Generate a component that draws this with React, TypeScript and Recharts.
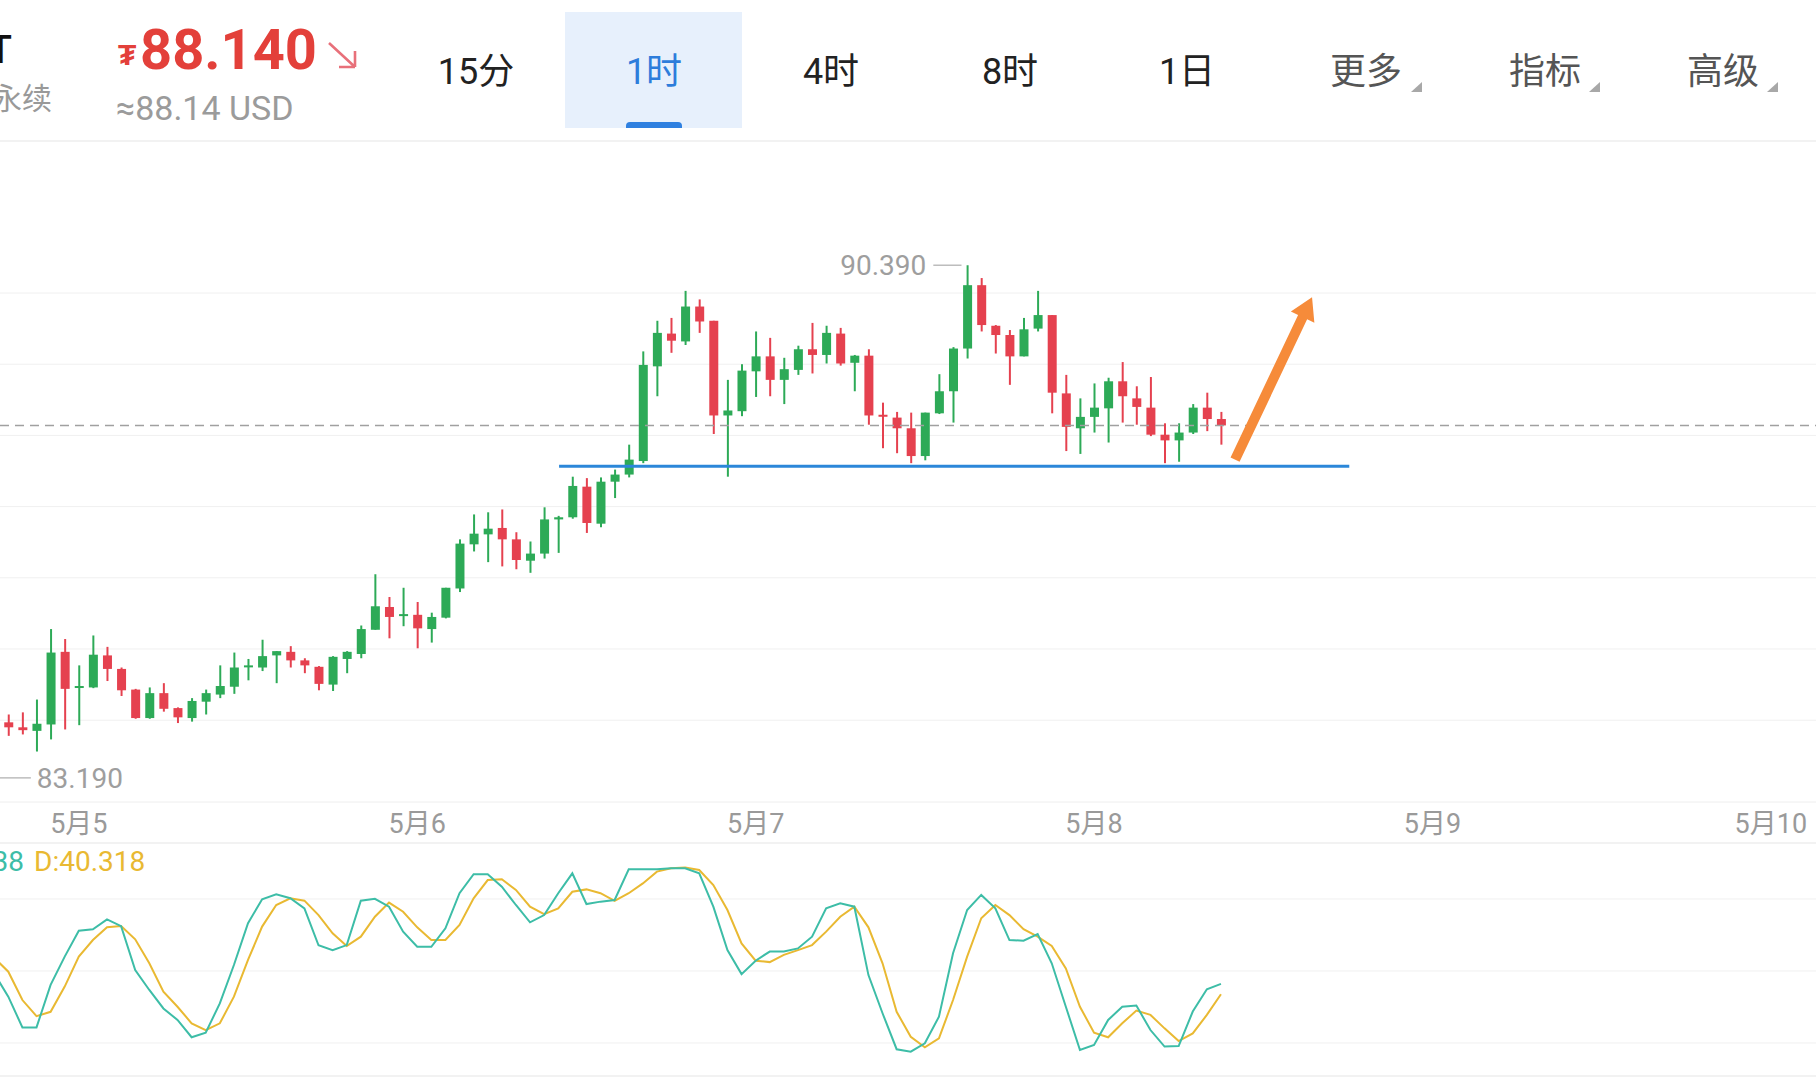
import React from 'react';
import { ComposedChart, LineChart, Line, Bar, XAxis, YAxis, CartesianGrid, ReferenceLine } from 'recharts';

const W = 1816;
const GREEN = '#2DAA57';
const RED = '#E5414F';
const TEAL = '#3DBDA7';
const GOLD = '#E9B932';

// hourly candles, index 0 = 5月4 19:00, 5月5 00:00 sits on index 5
const dateTicks = [5, 29, 53, 77, 101, 125];
const dateLabels = ['5月5', '5月6', '5月7', '5月8', '5月9', '5月10'];

const opens = [
  83.97, 83.90, 83.85, 83.94, 84.96, 84.46, 84.46, 84.91, 84.72, 84.43,
  84.03, 84.38, 84.17, 84.03, 84.26, 84.36, 84.47, 84.75, 84.74, 84.91,
  84.96, 84.84, 84.75, 84.50, 84.86, 84.93, 85.27, 85.59, 85.47, 85.48,
  85.28, 85.44, 85.85, 86.47, 86.61, 86.70, 86.54, 86.24, 86.34, 86.82,
  86.85, 87.28, 86.76, 87.35, 87.45, 87.64, 88.97, 89.43, 89.32, 89.81,
  89.61, 88.28, 88.34, 88.90, 89.11, 88.78, 88.92, 89.21, 89.13, 89.43,
  89.02, 89.12, 88.29, 88.25, 88.10, 87.71, 88.31, 88.62, 89.22, 90.11,
  89.54, 89.41, 89.11, 89.50, 89.69, 88.59, 88.10, 88.26, 88.38, 88.76,
  88.52, 88.39, 88.01, 87.93, 88.04, 88.39, 88.23,
];
const highs = [
  84.08, 84.11, 84.29, 85.28, 85.14, 84.77, 85.19, 85.03, 84.74, 84.44,
  84.46, 84.52, 84.18, 84.31, 84.43, 84.77, 84.95, 84.86, 85.13, 84.97,
  85.04, 84.87, 84.76, 84.90, 84.97, 85.33, 86.05, 85.73, 85.86, 85.66,
  85.51, 85.86, 86.54, 86.89, 86.92, 86.96, 86.64, 86.51, 86.99, 86.87,
  87.42, 87.40, 87.41, 87.52, 87.87, 89.18, 89.61, 89.65, 90.03, 89.91,
  89.61, 88.78, 89.00, 89.46, 89.37, 89.09, 89.26, 89.58, 89.54, 89.51,
  89.13, 89.21, 88.46, 88.33, 88.32, 88.32, 88.86, 89.24, 90.39, 90.21,
  89.55, 89.48, 89.65, 90.03, 89.69, 88.85, 88.52, 88.73, 88.81, 89.03,
  88.69, 88.82, 88.17, 88.17, 88.44, 88.60, 88.33,
];
const lows = [
  83.78, 83.80, 83.56, 83.73, 83.87, 83.93, 84.45, 84.55, 84.34, 84.02,
  84.02, 84.12, 83.96, 83.98, 84.08, 84.31, 84.37, 84.56, 84.69, 84.52,
  84.74, 84.66, 84.42, 84.41, 84.66, 84.87, 85.27, 85.15, 85.32, 85.01,
  85.09, 85.43, 85.80, 86.37, 86.22, 86.16, 86.12, 86.07, 86.27, 86.35,
  86.83, 86.63, 86.71, 87.12, 87.41, 87.61, 88.55, 89.16, 89.27, 89.44,
  88.02, 87.42, 88.27, 88.54, 88.55, 88.44, 88.85, 88.87, 89.01, 88.98,
  88.62, 88.15, 87.82, 87.75, 87.61, 87.65, 88.30, 88.18, 89.08, 89.46,
  89.15, 88.71, 89.11, 89.46, 88.31, 87.78, 87.74, 88.04, 87.90, 88.18,
  88.15, 87.99, 87.61, 87.63, 88.02, 88.06, 87.87,
];
const closes = [
  83.90, 83.86, 83.95, 84.95, 84.44, 84.48, 84.92, 84.72, 84.42, 84.03,
  84.38, 84.16, 84.04, 84.27, 84.38, 84.48, 84.74, 84.77, 84.90, 84.97,
  84.84, 84.77, 84.51, 84.89, 84.96, 85.28, 85.60, 85.45, 85.49, 85.29,
  85.45, 85.86, 86.48, 86.62, 86.69, 86.54, 86.25, 86.34, 86.82, 86.85,
  87.29, 86.77, 87.35, 87.45, 87.66, 88.99, 89.44, 89.33, 89.81, 89.60,
  88.28, 88.35, 88.91, 89.11, 88.78, 88.93, 89.21, 89.13, 89.44, 89.01,
  89.12, 88.28, 88.27, 88.10, 87.71, 88.32, 88.62, 89.22, 90.11, 89.55,
  89.41, 89.11, 89.49, 89.69, 88.60, 88.12, 88.26, 88.39, 88.76, 88.55,
  88.40, 88.01, 87.93, 88.04, 88.39, 88.23, 88.14,
];

// KDJ starts one candle before the first visible one
const kdjStart = -1;
const kValues = [
  49.0,
  39.3, 26.5, 26.5, 44.2, 56.0, 66.8, 67.4, 71.5, 68.7, 50.4,
  42.1, 34.4, 29.6, 22.4, 24.3, 36.5, 52.5, 69.9, 79.9, 82.0,
  80.3, 76.1, 60.7, 58.7, 60.8, 79.3, 80.1, 76.8, 66.4, 60.1,
  60.1, 67.8, 82.4, 90.3, 90.3, 85.1, 77.5, 70.3, 73.3, 82.4,
  90.7, 77.9, 78.9, 79.6, 92.4, 92.4, 92.4, 92.8, 92.8, 90.7,
  76.8, 58.7, 48.7, 54.3, 58.1, 58.1, 59.4, 64.3, 76.1, 78.2,
  76.8, 48.3, 32.4, 17.4, 16.4, 19.9, 31.0, 57.4, 75.4, 81.7,
  76.1, 62.9, 62.6, 65.4, 53.2, 35.1, 17.1, 19.2, 29.6, 35.1,
  35.6, 25.4, 18.5, 18.7, 33.1, 42.4, 44.638,
];
const dValues = [
  55.5,
  49.7, 37.9, 31.2, 33.0, 43.5, 56.0, 62.9, 68.2, 68.7, 63.2,
  53.2, 41.4, 35.1, 28.2, 25.4, 28.2, 39.3, 54.6, 68.5, 77.5,
  80.3, 79.3, 73.3, 65.7, 60.4, 64.3, 72.6, 78.5, 74.7, 68.2,
  62.9, 62.9, 69.2, 80.3, 87.9, 88.2, 83.8, 76.8, 73.7, 76.1,
  83.0, 84.0, 82.4, 79.2, 82.4, 86.5, 91.4, 92.8, 93.1, 92.1,
  85.8, 75.4, 61.5, 54.3, 53.7, 56.7, 58.7, 60.8, 66.4, 72.6,
  76.8, 68.2, 53.2, 33.0, 22.6, 18.2, 21.9, 37.9, 56.0, 72.0,
  77.5, 73.3, 67.4, 64.3, 60.4, 51.1, 35.1, 24.3, 22.4, 28.2,
  33.5, 31.7, 26.1, 20.8, 24.0, 31.7, 40.318,
];

const lastPrice = 88.14;
const supportPrice = 87.565;
const highPrice = 90.39;
const lowPrice = 83.19;
const tabs = ['15分', '1时', '4时', '8时', '1日', '更多', '指标', '高级'];

const X_MIN = -0.589;
const X_MAX = 128.2;

const candles = opens.map((o, i) => ({
  idx: i,
  open: o,
  high: highs[i],
  low: lows[i],
  close: closes[i],
  range: [lows[i], highs[i]],
}));

const kdj = kValues.map((k, i) => ({ idx: i + kdjStart, k, d: dValues[i] }));

const Candle = (props: any) => {
  const { x, y, width, height, payload } = props;
  if (!payload) return null;
  const top = Math.min(y, y + height);
  const h = Math.abs(height);
  const { open, close, high, low } = payload;
  const span = high - low || 1;
  const py = (v: number) => top + ((high - v) / span) * h;
  const color = close >= open ? GREEN : RED;
  const cx = x + width / 2;
  const bTop = py(Math.max(open, close));
  const bBot = py(Math.min(open, close));
  return (
    <g>
      <line x1={cx} x2={cx} y1={top} y2={top + h} stroke={color} strokeWidth={2} />
      <rect x={x} y={bTop} width={width} height={Math.max(2, bBot - bTop)} fill={color} />
    </g>
  );
};

const Arrow = (props: any) => {
  const { x1, y1, x2, y2 } = props;
  const len = Math.hypot(x2 - x1, y2 - y1) || 1;
  const ux = (x2 - x1) / len, uy = (y2 - y1) / len;
  const nx = -uy, ny = ux;
  const sw = 5, hw = 13, hl = 22;
  const bx = x2 - ux * hl, by = y2 - uy * hl;
  const pts = [
    [x1 + nx * sw, y1 + ny * sw],
    [bx + nx * sw, by + ny * sw],
    [bx + nx * hw, by + ny * hw],
    [x2, y2],
    [bx - nx * hw, by - ny * hw],
    [bx - nx * sw, by - ny * sw],
    [x1 - nx * sw, y1 - ny * sw],
  ];
  return <polygon points={pts.map((p) => p.join(',')).join(' ')} fill="#F68B3A" />;
};

const Corner = ({ left }: { left: number }) => (
  <svg style={{ position: 'absolute', left, top: 82 }} width={11} height={10}>
    <polygon points="11,0 11,10 0,10" fill="#A8A8A8" />
  </svg>
);

const tabX = [476, 654, 831, 1010, 1187, 1366, 1545, 1723];

export default function App() {
  return (
    <div
      style={{
        position: 'absolute', left: 0, top: 0, width: W, height: 1080, overflow: 'hidden',
        background: '#fff', fontFamily: "Roboto, 'Noto Sans CJK SC', sans-serif",
      }}
    >
      {/* header */}
      <div style={{ position: 'absolute', right: W - 12, top: 31, fontSize: 38, lineHeight: '38px', fontWeight: 500, color: '#111', whiteSpace: 'nowrap' }}>USDT</div>
      <div style={{ position: 'absolute', right: W - 52, top: 84, fontSize: 30, lineHeight: '30px', color: '#999', whiteSpace: 'nowrap' }}>永续</div>
      <div style={{ position: 'absolute', left: 118, top: 40, fontSize: 30, lineHeight: '30px', fontWeight: 700, color: '#E3403A' }}>₮</div>
      <div style={{ position: 'absolute', left: 140, top: 22, fontSize: 56, lineHeight: '56px', fontWeight: 700, color: '#E3403A', whiteSpace: 'nowrap' }}>88.140</div>
      <svg style={{ position: 'absolute', left: 326, top: 40 }} width={34} height={30}>
        <path d="M3 3 L29 27 M29 27 L29 11 M29 27 L13 27" stroke="#E8707A" strokeWidth={2.6} fill="none" />
      </svg>
      <div style={{ position: 'absolute', left: 116, top: 91, fontSize: 34, lineHeight: '34px', color: '#9B9B9B', whiteSpace: 'nowrap' }}>≈88.14 USD</div>

      <div style={{ position: 'absolute', left: 565, top: 12, width: 177, height: 116, background: '#E7F0FC' }} />
      <div style={{ position: 'absolute', left: 626, top: 122, width: 56, height: 6, background: '#2F80E0', borderRadius: '4px 4px 0 0' }} />
      {tabs.map((t, i) => (
        <div
          key={t}
          style={{
            position: 'absolute', left: tabX[i] - 100, width: 200, top: 54, textAlign: 'center',
            fontSize: 36, lineHeight: '36px', whiteSpace: 'nowrap',
            color: i === 1 ? '#2D7DDB' : i >= 5 ? '#555' : '#222',
          }}
        >
          {t}
        </div>
      ))}
      <Corner left={1411} />
      <Corner left={1589} />
      <Corner left={1767} />
      <div style={{ position: 'absolute', left: 0, top: 140, width: W, height: 2, background: '#F2F2F2' }} />

      {/* price chart */}
      <div style={{ position: 'absolute', left: 0, top: 141 }}>
        <ComposedChart width={W} height={702} data={candles} margin={{ top: 0, right: 0, bottom: 0, left: 0 }}>
          <CartesianGrid vertical={false} stroke="#F0F0F0" horizontalValues={[84, 85, 86, 87, 88, 89, 90]} />
          <XAxis
            dataKey="idx" type="number" domain={[X_MIN, X_MAX]} allowDataOverflow
            ticks={dateTicks} interval={0} height={41} tickLine={false}
            axisLine={{ stroke: '#EEEEEE' }}
            tick={{ fill: '#9A9A9A', fontSize: 27, dy: 4 }}
            tickFormatter={(v: number) => dateLabels[dateTicks.indexOf(v)] ?? ''}
          />
          <YAxis hide domain={[82.851, 92.135]} allowDataOverflow ticks={[84, 85, 86, 87, 88, 89, 90]} />
          <ReferenceLine y={lastPrice} stroke="#A0A0A0" strokeDasharray="9 6" strokeWidth={1.5} />
          <Bar dataKey="range" barSize={9} shape={Candle} isAnimationActive={false} />
          <ReferenceLine segment={[{ x: 39.06, y: supportPrice }, { x: 95.1, y: supportPrice }]} stroke="#2B87D9" strokeWidth={3} />
          <ReferenceLine segment={[{ x: 87.0, y: 87.66 }, { x: 92.46, y: 89.94 }]} shape={Arrow} />
          <ReferenceLine
            segment={[{ x: 65.6, y: highPrice }, { x: 67.6, y: highPrice }]}
            stroke="#BDBDBD" strokeWidth={1.5}
            label={{ value: highPrice.toFixed(3), position: 'left', fill: '#9E9E9E', fontSize: 28, offset: 7 }}
          />
          <ReferenceLine
            segment={[{ x: X_MIN, y: lowPrice }, { x: 1.6, y: lowPrice }]}
            stroke="#BDBDBD" strokeWidth={1.5}
            label={{ value: lowPrice.toFixed(3), position: 'right', fill: '#9E9E9E', fontSize: 28, offset: 6 }}
          />
        </ComposedChart>
      </div>
      <div style={{ position: 'absolute', left: 0, top: 842, width: W, height: 2, background: '#F2F2F2' }} />

      {/* KDJ */}
      <div style={{ position: 'absolute', right: W - 24, top: 848, fontSize: 28, lineHeight: '28px', color: TEAL, whiteSpace: 'nowrap' }}>K:44.638</div>
      <div style={{ position: 'absolute', left: 34, top: 848, fontSize: 28, lineHeight: '28px', color: GOLD, whiteSpace: 'nowrap' }}>D:40.318</div>
      <div style={{ position: 'absolute', left: 0, top: 843 }}>
        <LineChart width={W} height={233} data={kdj} margin={{ top: 0, right: 0, bottom: 0, left: 0 }}>
          <CartesianGrid vertical={false} stroke="#F0F0F0" horizontalValues={[20, 50, 80]} />
          <XAxis hide dataKey="idx" type="number" domain={[X_MIN, X_MAX]} allowDataOverflow />
          <YAxis hide domain={[6.25, 103.33]} allowDataOverflow />
          <Line dataKey="d" stroke={GOLD} strokeWidth={2} dot={false} isAnimationActive={false} />
          <Line dataKey="k" stroke={TEAL} strokeWidth={2} dot={false} isAnimationActive={false} />
        </LineChart>
      </div>
      <div style={{ position: 'absolute', left: 0, top: 1075, width: W, height: 2, background: '#F2F2F2' }} />
    </div>
  );
}
